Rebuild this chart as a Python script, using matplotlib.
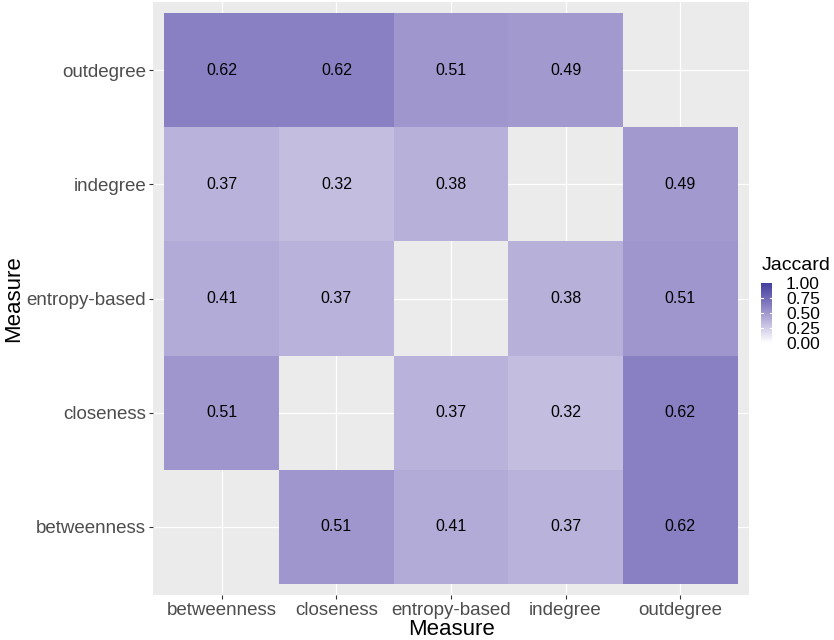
import numpy as np
import matplotlib
matplotlib.use("Agg")
import matplotlib.pyplot as plt
from matplotlib.colors import LinearSegmentedColormap, Normalize

plt.rcParams['font.family'] = ['Liberation Sans', 'DejaVu Sans']

measures = ["betweenness", "closeness", "entropy-based", "indegree", "outdegree"]

# rows = y measure (bottom to top), columns = x measure
jaccard = np.array([
    [np.nan, 0.51, 0.41, 0.37, 0.62],   # betweenness
    [0.51, np.nan, 0.37, 0.32, 0.62],   # closeness
    [0.41, 0.37, np.nan, 0.38, 0.51],   # entropy-based
    [0.37, 0.32, 0.38, np.nan, 0.49],   # indegree
    [0.62, 0.62, 0.51, 0.49, np.nan],   # outdegree
])

cmap = LinearSegmentedColormap.from_list(
    "jac", [(0.0, "#ffffff"), (0.32, "#c3bde0"), (0.62, "#8880c2"), (1.0, "#443e9e")])
norm = Normalize(0, 1)

fig = plt.figure(figsize=(8.34, 6.4), dpi=100)
ax = fig.add_axes([153 / 834, 45 / 640, 596 / 834, 593 / 640])
ax.set_facecolor("#ebebeb")

n = len(measures)
edges = np.arange(n + 1) - 0.5
mesh = ax.pcolormesh(edges, edges, np.ma.masked_invalid(jaccard), cmap=cmap, norm=norm, zorder=2)

for i in range(n):
    for j in range(n):
        v = jaccard[i, j]
        if not np.isnan(v):
            ax.text(j, i, f"{v:.2f}", ha="center", va="center", fontsize=11.5, color="black", zorder=3)

ax.set_xlim(-0.6, n - 0.4)
ax.set_ylim(-0.6, n - 0.4)
ax.set_xticks(range(n))
ax.set_yticks(range(n))
ax.set_xticklabels(measures, fontsize=13.5, color="#4d4d4d")
ax.set_yticklabels(measures, fontsize=13.5, color="#4d4d4d")
ax.tick_params(length=3, color="#333333", width=0.8, pad=2)
ax.grid(True, color="white", linewidth=0.9, zorder=1)
ax.set_axisbelow(True)
for s in ax.spines.values():
    s.set_visible(False)
ax.set_xlabel("Measure", fontsize=16, labelpad=0)
ax.set_ylabel("Measure", fontsize=16, labelpad=2)

# colour bar legend
cax = fig.add_axes([761 / 834, (640 - 343) / 640, 11 / 834, 60 / 640])
cb = fig.colorbar(mesh, cax=cax, ticks=[0, 0.25, 0.5, 0.75, 1.0])
cb.outline.set_visible(False)
cb.ax.set_yticklabels(["0.00", "0.25", "0.50", "0.75", "1.00"], fontsize=12.5)
cb.ax.tick_params(length=0, pad=10)
for t in [0.25, 0.5, 0.75]:
    cax.plot([0, 0.2], [t, t], color="white", lw=0.8, transform=cax.transAxes)
    cax.plot([0.8, 1], [t, t], color="white", lw=0.8, transform=cax.transAxes)
fig.text(831 / 834, 1 - 265 / 640, "Jaccard", fontsize=14, ha="right", va="center")

fig.savefig("out.png", dpi=100)
